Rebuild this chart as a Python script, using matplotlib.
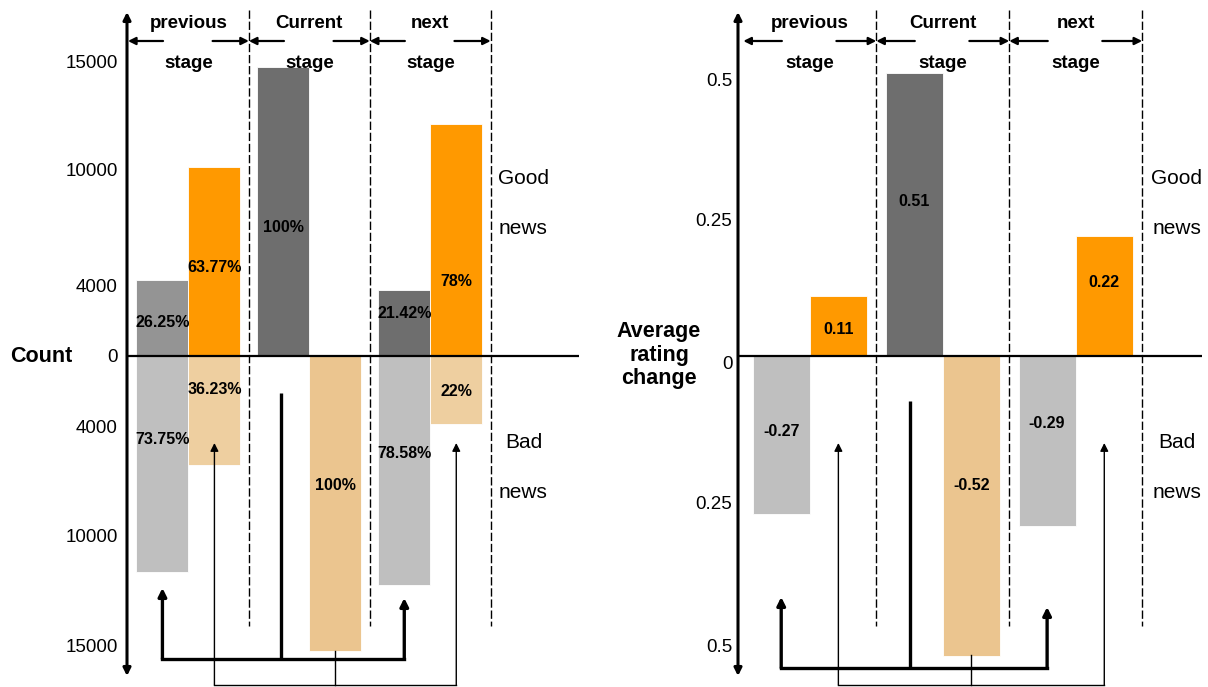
import numpy as np
import matplotlib
matplotlib.use("Agg")
import matplotlib.pyplot as plt
from matplotlib.scale import FuncScale

plt.rcParams['font.family'] = ['Liberation Sans', 'DejaVu Sans']

# ---------------- data ----------------
stages = ["previous", "Current", "next"]
# Left panel: counts (good news above, bad news below)
count_good_left = [4300, 14770, 3770]    # grey / dark bars, good news
count_good_right = [10140, 0, 12130]     # orange bars, good news
count_bad_left = [11650, 0, 12250]       # light grey bars, bad news
count_bad_right = [6090, 15280, 3830]    # light orange bars, bad news
pct_good_left = ["26.25%", "100%", "21.42%"]
pct_good_right = ["63.77%", "", "78%"]
pct_bad_left = ["73.75%", "", "78.58%"]
pct_bad_right = ["36.23%", "100%", "22%"]
count_ticks = [-15000, -10000, -4000, 0, 4000, 10000, 15000]

# Right panel: average rating change
rating_good_left = [0, 0.51, 0]
rating_good_right = [0.11, 0, 0.22]
rating_bad_left = [-0.27, 0, -0.29]
rating_bad_right = [0, -0.52, 0]
rating_ticks = [-0.5, -0.25, 0, 0.25, 0.5]

# ---------------- styles ----------------
DARK = "#6e6e6e"
MID = "#949494"
LIGHT = "#bfbfbf"
ORANGE = "#ff9900"
LORANGE = "#eecfa0"
CORANGE = "#ebc58f"

W, H = 1208, 687
fig = plt.figure(figsize=(W / 100, H / 100), dpi=100)
ZERO_PX = 356  # pixel row of zero line


def frac(ypix):
    return 1 - ypix / H


def make_scale(ax, vals, px):
    vals = np.asarray(vals, float)
    px = np.asarray(px, float)
    fwd = lambda v: np.interp(v, vals, px)
    inv = lambda p: np.interp(p, px, vals)
    ax.set_yscale(FuncScale(ax, (fwd, inv)))
    ax.set_ylim(inv(-(H - ZERO_PX)), inv(ZERO_PX))


def panel(ax, xl, gl, gr, bl, br, gl_c, gr_c, bl_c, br_c,
          ticks, tick_labels, pad):
    xs = np.arange(3)
    bw = 0.43
    ax.bar(xs - bw / 2, gl, bw, color=gl_c, edgecolor="white", linewidth=0.6, zorder=2)
    ax.bar(xs + bw / 2, gr, bw, color=gr_c, edgecolor="white", linewidth=0.6, zorder=2)
    ax.bar(xs - bw / 2, bl, bw, color=bl_c, edgecolor="white", linewidth=0.6, zorder=2)
    ax.bar(xs + bw / 2, br, bw, color=br_c, edgecolor="white", linewidth=0.6, zorder=2)
    ax.set_xlim(*xl)
    for s in ax.spines.values():
        s.set_visible(False)
    ax.set_xticks([])
    ax.set_yticks(ticks)
    ax.set_yticklabels(tick_labels, fontsize=13.5)
    ax.tick_params(axis="y", length=0, pad=pad)
    ax.axhline(0, color="black", lw=1.6, zorder=3)
    tr = ax.get_xaxis_transform()
    # vertical axis double arrow
    ax.annotate("", xy=(xl[0], frac(12)), xytext=(xl[0], frac(676)),
                xycoords=tr, textcoords=tr, annotation_clip=False,
                arrowprops=dict(arrowstyle="<|-|>", lw=2.2, color="black",
                                mutation_scale=11, shrinkA=0, shrinkB=0))
    # dashed stage separators
    for b in [0.5, 1.5, 2.5]:
        ax.plot([b, b], [frac(10), frac(626)], transform=tr, color="black",
                lw=1.0, ls=(0, (6, 2)), zorder=4, clip_on=False)
    # stage headers
    for i, s in enumerate(stages):
        ax.text(i, frac(23), s, transform=tr, ha="center", va="center",
                fontsize=13.5, fontweight="bold")
        ax.text(i, frac(63), "stage", transform=tr, ha="center", va="center",
                fontsize=13.5, fontweight="bold", zorder=5)
        for a, b in [(i - 0.21, i - 0.5), (i + 0.2, i + 0.5)]:
            ax.annotate("", xy=(b, frac(41)), xytext=(a, frac(41)),
                        xycoords=tr, textcoords=tr,
                        arrowprops=dict(arrowstyle="-|>", lw=1.6, color="black",
                                        mutation_scale=11, shrinkA=0, shrinkB=0))
    return xs, bw, tr


def connectors(ax, tr, xs, bw, thick, thin):
    # thick: current good bar -> previous/next left bars
    (yv0, yh, ya_l, ya_r, xcen) = thick
    xl_, xr_ = xs[0] - bw / 2, xs[2] - bw / 2
    ax.plot([xcen, xcen], [frac(yv0), frac(yh)], transform=tr, color="black",
            lw=2.4, clip_on=False, solid_capstyle="butt")
    ax.plot([xl_, xr_], [frac(yh), frac(yh)], transform=tr, color="black",
            lw=2.4, clip_on=False, solid_capstyle="projecting")
    for x, ya in [(xl_, ya_l), (xr_, ya_r)]:
        ax.annotate("", xy=(x, frac(ya)), xytext=(x, frac(yh)),
                    xycoords=tr, textcoords=tr, annotation_clip=False,
                    arrowprops=dict(arrowstyle="-|>", lw=2.4, color="black",
                                    mutation_scale=12, shrinkA=0, shrinkB=0))
    # thin: current bad bar -> previous/next right bars
    (yv0, yh, ya, xcen) = thin
    xl_, xr_ = xs[0] + bw / 2, xs[2] + bw / 2
    ax.plot([xcen, xcen], [frac(yv0), frac(yh)], transform=tr, color="black",
            lw=1.0, clip_on=False)
    ax.plot([xl_, xr_], [frac(yh), frac(yh)], transform=tr, color="black",
            lw=1.0, clip_on=False)
    for x in [xl_, xr_]:
        ax.annotate("", xy=(x, frac(ya)), xytext=(x, frac(yh)),
                    xycoords=tr, textcoords=tr, annotation_clip=False,
                    arrowprops=dict(arrowstyle="-|>", lw=1.0, color="black",
                                    mutation_scale=12, shrinkA=0, shrinkB=0))


def news_labels(ax, tr, x):
    for t, y in [("Good", 178), ("news", 228), ("Bad", 442), ("news", 493)]:
        ax.text(x, frac(y), t, transform=tr, ha="center", va="center", fontsize=15)


# ================= Left panel =================
axL = fig.add_axes([127 / W, 0, (579 - 127) / W, 1])
make_scale(axL, [-20000, -15000, -10000, -4000, 0, 4000, 10000, 15000, 20000],
           [-398, -289, -180, -71, 0, 70, 186, 294, 402])
xsL, bwL, trL = panel(axL, (-0.508, 3.23),
                      count_good_left, count_good_right,
                      [-v for v in count_bad_left], [-v for v in count_bad_right],
                      [MID, DARK, DARK], ORANGE,
                      LIGHT, [LORANGE, CORANGE, LORANGE],
                      count_ticks, [str(abs(t)) for t in count_ticks], 6.5)
# percentage label rows (pixels)
lab_good_left_y = [323, 227, 314]
lab_good_right_y = [267, None, 281]
lab_bad_left_y = [439, None, 454]
lab_bad_right_y = [390, 486, 392]
for i in range(3):
    for txt, y, dx in [(pct_good_left[i], lab_good_left_y[i], -bwL / 2),
                       (pct_good_right[i], lab_good_right_y[i], bwL / 2),
                       (pct_bad_left[i], lab_bad_left_y[i], -bwL / 2),
                       (pct_bad_right[i], lab_bad_right_y[i], bwL / 2)]:
        if txt and y is not None:
            axL.text(i + dx, frac(y), txt, transform=trL, ha="center", va="center",
                     fontsize=11.5, fontweight="bold", zorder=5)
connectors(axL, trL, xsL, bwL,
           thick=(393, 659, 588, 598, 1 - bwL / 2 - 0.02),
           thin=(651, 685, 443, 1 + bwL / 2))
news_labels(axL, trL, 2.77)
fig.text(41 / W, frac(357), "Count", ha="center", va="center",
         fontsize=15.5, fontweight="bold")

# ================= Right panel =================
axR = fig.add_axes([738 / W, 0, (1202 - 738) / W, 1])
make_scale(axR, [-1, -0.5, -0.25, 0, 0.25, 0.5, 1],
           [-573, -289, -147, 0, 136, 277, 559])
xsR, bwR, trR = panel(axR, (-0.54, 2.95),
                      rating_good_left, rating_good_right,
                      rating_bad_left, rating_bad_right,
                      DARK, ORANGE, LIGHT, CORANGE,
                      rating_ticks, [("%g" % abs(t)) for t in rating_ticks], 4)
for lbl in axR.get_yticklabels():
    if lbl.get_text() == "0":
        lbl.set_va("top")
rating_labels = [("0.11", 0 + bwR / 2, 330), ("0.51", 1 - bwR / 2, 202),
                 ("0.22", 2 + bwR / 2, 282), ("-0.27", 0 - bwR / 2, 432),
                 ("-0.52", 1 + bwR / 2, 486), ("-0.29", 2 - bwR / 2, 423)]
for txt, xx, y in rating_labels:
    axR.text(xx, frac(y), txt, transform=trR, ha="center", va="center",
             fontsize=11.5, fontweight="bold", zorder=5)
connectors(axR, trR, xsR, bwR,
           thick=(401, 668, 597, 607, 1 - bwR / 2 - 0.035),
           thin=(655, 685, 443, 1 + bwR / 2))
news_labels(axR, trR, 2.76)
fig.text(659 / W, frac(355), "Average\nrating\nchange", ha="center", va="center",
         fontsize=15.5, fontweight="bold", linespacing=1.15)

fig.savefig("out.png", dpi=100)
